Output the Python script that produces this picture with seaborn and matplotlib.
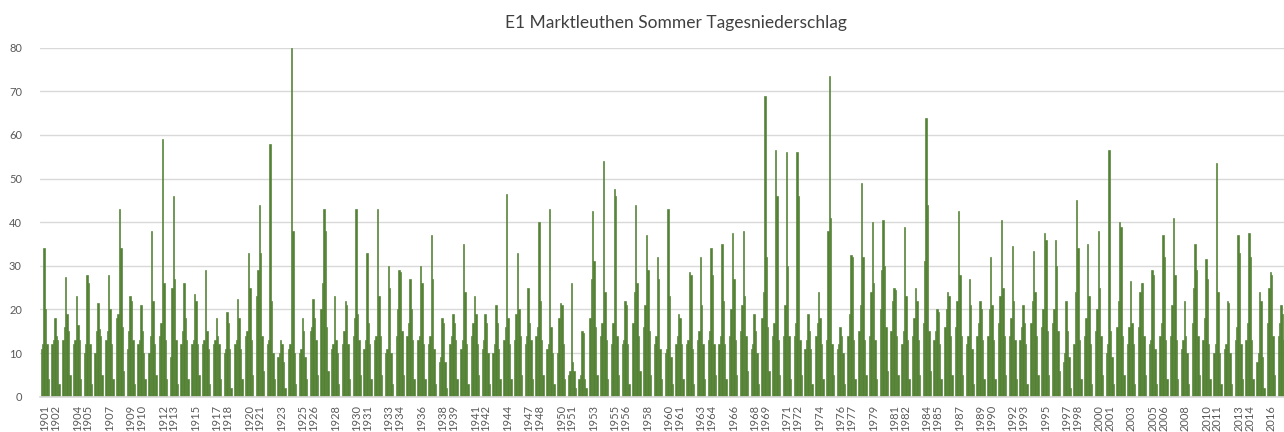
import numpy as np
import pandas as pd
import matplotlib
matplotlib.use("Agg")
import matplotlib.pyplot as plt
import seaborn as sns

# ---- data (mm per day) ----
years = list(range(1901, 1945)) + list(range(1946, 2018))

peak_mm = [34, 18, 27.5, 23, 28, 21.5, 28, 43, 23, 21,
           38, 59, 46, 26, 23.5, 29, 18, 19.5, 22.5, 33,
           44, 58, 13, 80, 18, 22.5, 43, 23, 22, 43,
           33, 43, 30, 29, 27, 30, 37, 18, 19, 35,
           23, 19, 21, 46.5, 33, 25, 40, 43, 21.5, 26,
           15, 42.5, 54, 47.5, 22, 44, 37, 32, 43, 19,
           28.5, 32, 34, 35, 37.5, 38, 19, 69, 56.5, 56,
           56, 19, 24, 73.5, 16, 32.5, 49, 40, 40.5, 25,
           39, 25, 64, 20, 24, 42.5, 27, 22, 32, 40.5,
           34.5, 21, 33.5, 37.5, 36, 22, 45, 35, 38, 56.5,
           40, 26.5, 26, 29, 37, 41, 22, 35, 31.5, 53.5,
           22, 37, 37.5, 24, 28.5, 21]

second_mm = [20, 14, 19, 16.5, 26, 15.5, 20, 34, 22, 15,
             22, 26, 27, 18, 22, 15, 14, 17, 18, 25,
             33, 22, 12, 38, 15, 18, 38, 13, 21, 19,
             17, 23, 25, 28.5, 20, 26, 27, 17, 17, 24,
             19, 17, 17, 18, 20, 17, 22, 16, 21, 8,
             14.5, 31, 24, 46, 21, 26, 29, 27, 23, 18,
             28, 21, 28, 22, 27, 23, 15, 32, 46, 30,
             46, 15, 18, 41, 14, 32, 32, 26, 30, 24.5,
             23, 22, 44, 19.5, 23, 28, 21, 20, 21, 25,
             22, 17, 24, 36, 30, 15, 34, 23, 25, 15,
             39, 17, 26, 28, 32, 28, 14, 29, 27, 24,
             21.5, 33, 32, 22, 28, 19]

third_mm = [12, 13, 16, 13, 12, 15, 15, 19, 15, 13,
            14, 17, 25, 15, 13, 13, 13, 11, 13, 15,
            29, 13, 10, 12, 11, 16, 26, 12, 15, 18,
            13, 14, 11, 20, 17, 14, 14, 9, 14, 13,
            17, 13, 12, 16, 19, 14, 16, 12, 18, 6,
            5, 27, 17, 17, 13, 24, 21, 14, 11, 14,
            13, 15, 15, 14, 20, 21, 12, 24, 17, 21,
            17, 13, 17, 38, 12, 19, 21, 24, 29, 22,
            15, 18, 31, 15, 20, 22, 14, 17, 20, 23,
            18, 16, 22, 20, 20, 10, 24, 18, 20, 12,
            22, 16, 24, 13, 17, 21, 13, 25, 18, 12,
            12, 16, 17, 10, 25, 17]

base_a_mm = [11, 12, 13, 12, 10, 10, 13, 18, 11, 12,
             10, 14, 9, 12, 12, 12, 12, 10, 12, 14,
             23, 12, 9, 11, 10, 15, 20, 11, 12, 14,
             11, 13, 10, 14, 14, 13, 12, 8, 12, 11,
             14, 11, 10, 13, 13, 12, 14, 11, 10, 5,
             4, 18, 14, 12, 12, 17, 16, 12, 10, 12,
             12, 13, 13, 12, 14, 15, 11, 18, 14, 14,
             14, 11, 14, 13, 11, 14, 15, 14, 20, 15,
             12, 14, 17, 13, 16, 16, 12, 14, 14, 17,
             14, 13, 17, 16, 17, 8, 12, 14, 15, 10,
             16, 12, 16, 12, 14, 14, 11, 17, 13, 10,
             11, 13, 13, 8, 17, 14]

base_b_mm = [12, 13, 15, 13, 12, 14, 12, 16, 13, 10,
             12, 13, 13, 13, 12, 11, 12, 11, 11, 13,
             14, 10, 8, 10, 9, 13, 16, 10, 12, 13,
             12, 14, 10, 15, 13, 12, 11, 8, 13, 12,
             12, 10, 11, 12, 14, 13, 13, 10, 12, 6,
             4, 16, 13, 14, 12, 14, 15, 11, 9, 12,
             11, 12, 12, 12, 13, 14, 10, 16, 13, 14,
             13, 11, 12, 12, 10, 13, 13, 13, 16, 14,
             13, 13, 15, 12, 14, 14, 11, 13, 13, 14,
             13, 12, 14, 15, 15, 9, 13, 12, 14, 9,
             14, 12, 14, 11, 13, 13, 10, 14, 12, 10,
             10, 12, 13, 9, 14, 13]

low_mm = [4, 3, 5, 4, 3, 5, 4, 6, 3, 4,
          5, 4, 3, 4, 5, 3, 4, 2, 4, 5,
          6, 4, 2, 3, 4, 5, 6, 3, 4, 5,
          4, 5, 3, 5, 4, 4, 3, 2, 4, 3,
          5, 3, 4, 4, 5, 4, 5, 3, 4, 2,
          2, 5, 4, 5, 3, 6, 5, 4, 3, 4,
          3, 4, 5, 4, 5, 6, 3, 6, 5, 4,
          5, 3, 4, 5, 3, 4, 5, 4, 6, 5,
          4, 5, 6, 4, 5, 5, 3, 4, 4, 5,
          4, 3, 5, 5, 6, 2, 4, 3, 5, 3,
          5, 3, 5, 3, 4, 4, 3, 5, 4, 3,
          3, 4, 4, 2, 5, 4]

tick_years = [1901, 1902, 1904, 1905, 1907, 1909, 1910, 1912, 1913, 1915,
              1917, 1918, 1920, 1921, 1923, 1925, 1926, 1928, 1930, 1931,
              1933, 1934, 1936, 1938, 1939, 1941, 1942, 1944, 1947, 1948,
              1950, 1951, 1953, 1955, 1956, 1958, 1960, 1961, 1963, 1964,
              1966, 1968, 1969, 1971, 1972, 1974, 1976, 1977, 1979, 1981,
              1982, 1984, 1985, 1987, 1989, 1990, 1992, 1993, 1995, 1997,
              1998, 2000, 2001, 2003, 2005, 2006, 2008, 2010, 2011, 2013,
              2014, 2016]

title = "E1 Marktleuthen Sommer Tagesniederschlag"

# ---- build long table ----
slots = {"a": base_a_mm, "t": third_mm, "p": peak_mm, "s": second_mm,
         "b": base_b_mm, "l": low_mm}
for k, v in slots.items():
    assert len(v) == len(years), (k, len(v))

rows = []
for i, y in enumerate(years):
    for k, v in slots.items():
        rows.append({"year": str(y), "slot": k, "mm": v[i]})
df = pd.DataFrame(rows)

# ---- plot ----
sns.set_theme(style="white")
plt.rcParams["font.family"] = ["Lato", "DejaVu Sans"]

green = "#548235"
fig = plt.figure(figsize=(12.84, 4.32), dpi=100)
ax = fig.add_axes([40 / 1284, (432 - 396.7) / 432, 1244 / 1284, (396.7 - 47.7) / 432])

order = [str(y) for y in years]
sns.barplot(data=df, x="year", y="mm", hue="slot", hue_order=list(slots.keys()),
            order=order, palette=[green] * len(slots), dodge=True, width=0.78,
            saturation=1, linewidth=0.45, edgecolor=green, errorbar=None,
            legend=False, ax=ax)

ax.set_ylim(0, 80)
ax.set_yticks(np.arange(0, 81, 10))
ax.set_xlim(-0.45, len(years) - 0.8)
pos = [order.index(str(t)) if str(t) in order else None for t in tick_years]
ax.set_xticks([p for p in pos if p is not None])
ax.set_xticklabels([str(t) for t, p in zip(tick_years, pos) if p is not None],
                   rotation=90)
ax.tick_params(axis="x", length=0, pad=6, labelsize=8, colors="#595959")
ax.tick_params(axis="y", length=0, pad=13, labelsize=8, colors="#595959")
ax.set_xlabel("")
ax.set_ylabel("")
ax.yaxis.grid(True, color="#d9d9d9", linewidth=1)
ax.set_axisbelow(True)
for s in ["top", "right", "left"]:
    ax.spines[s].set_visible(False)
ax.spines["bottom"].set_color("#d9d9d9")

fig.text(676 / 1284, 1 - 23 / 432, title, ha="center", va="center",
         fontsize=12.5, color="#404040")

fig.savefig("out.png", dpi=100)
